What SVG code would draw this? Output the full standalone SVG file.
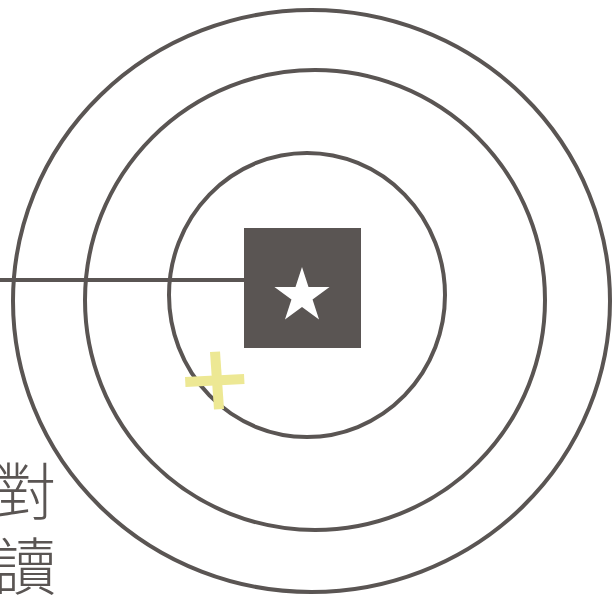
<svg xmlns="http://www.w3.org/2000/svg" width="612" height="595" viewBox="0 0 612 595">
<style>
.ring{fill:none;stroke:#5a5553;stroke-width:4}
.conn{stroke:#5a5553;stroke-width:4;fill:none}
.lbl{font-family:"Noto Sans CJK TC","Noto Sans CJK SC",sans-serif;font-weight:300;font-size:62px;fill:#5a5553}
.cross{fill:#ede894}
</style>
<rect width="612" height="595" fill="#ffffff"/>
<g id="rings">
<ellipse id="ring-outer" class="ring" cx="311.5" cy="301" rx="298.5" ry="291"/>
<ellipse id="ring-middle" class="ring" cx="315" cy="300" rx="230" ry="230"/>
<ellipse id="ring-inner" class="ring" cx="307" cy="295" rx="138" ry="142"/>
</g>
<g id="connectors">
<line class="conn" x1="0" y1="280" x2="245" y2="280"/>
</g>
<g id="center-node">
<rect x="244" y="228" width="117" height="120" fill="#5a5553"/>
<polygon fill="#ffffff" transform="translate(302,296) scale(29)" points="0,-1 0.2245,-0.309 0.951,-0.309 0.3633,0.118 0.5878,0.809 0,0.382 -0.5878,0.809 -0.3633,0.118 -0.951,-0.309 -0.2245,-0.309"/>
</g>
<g id="marker-cross">
<polygon class="cross" points="210,352 220,351.5 224,409 214,409.5"/>
<polygon class="cross" points="185,377 244,374 244.5,384 185.5,387"/>
</g>
<g id="labels">
<text class="lbl" x="56" y="515" text-anchor="end">對</text>
<text class="lbl" x="56" y="590" text-anchor="end">讀</text>
</g>
</svg>
